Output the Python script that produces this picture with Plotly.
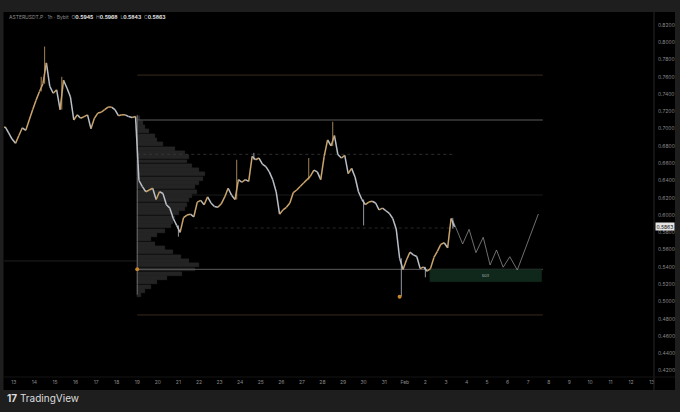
import pandas as pd
import plotly.graph_objects as go

# ---------------- data ----------------
candle_start = "2026-01-12 12:00"          # 4h candles
closes = [
    0.702, 0.695, 0.688, 0.683, 0.692, 0.701, 0.698, 0.710, 0.722, 0.733,
    0.743, 0.752, 0.776, 0.749, 0.741, 0.745, 0.722, 0.756, 0.747, 0.737,
    0.710, 0.716, 0.712, 0.714, 0.716, 0.700, 0.712, 0.718, 0.719, 0.722,
    0.725, 0.725, 0.722, 0.715, 0.716, 0.716, 0.714, 0.713, 0.714, 0.640,
    0.633, 0.627, 0.629, 0.631, 0.618, 0.627, 0.625, 0.612, 0.608, 0.596,
    0.588, 0.580, 0.597, 0.600, 0.601, 0.598, 0.615, 0.617, 0.612, 0.621,
    0.614, 0.610, 0.609, 0.613, 0.621, 0.631, 0.623, 0.618, 0.641, 0.638,
    0.641, 0.639, 0.668, 0.664, 0.666, 0.659, 0.656, 0.650, 0.641, 0.627,
    0.601, 0.606, 0.609, 0.614, 0.626, 0.629, 0.633, 0.637, 0.641, 0.645,
    0.652, 0.650, 0.641, 0.668, 0.687, 0.680, 0.692, 0.670, 0.666, 0.669,
    0.648, 0.654, 0.644, 0.627, 0.618, 0.612, 0.615, 0.616, 0.614, 0.606,
    0.608, 0.605, 0.602, 0.596, 0.584, 0.550, 0.537, 0.548, 0.557, 0.554,
    0.552, 0.538, 0.540, 0.535, 0.538, 0.551, 0.558, 0.566, 0.568, 0.562,
    0.596, 0.5863,
]
first_open = 0.700
wick_highs = {11: 0.760, 12: 0.795, 13: 0.766, 17: 0.760, 68: 0.664, 73: 0.672,
              89: 0.666, 96: 0.708, 131: 0.5968}
wick_lows = {51: 0.575, 105: 0.588, 116: 0.506, 123: 0.528, 131: 0.5843}

# volume profile (anchored Jan 19)
profile_anchor = "2026-01-19 00:00"
profile_prices = [0.712, 0.707, 0.702, 0.697, 0.692, 0.687, 0.682, 0.677, 0.672, 0.667,
                  0.662, 0.657, 0.652, 0.647, 0.642, 0.637, 0.632, 0.627, 0.622, 0.617,
                  0.612, 0.607, 0.602, 0.597, 0.592, 0.587, 0.582, 0.577, 0.572, 0.567,
                  0.562, 0.557, 0.552, 0.547, 0.542, 0.537, 0.532, 0.527, 0.522, 0.517,
                  0.512, 0.507]
profile_volumes = [3, 6, 8, 12, 18, 20, 26, 38, 48, 52,
                   50, 55, 62, 68, 66, 62, 58, 60, 55, 52,
                   50, 48, 42, 38, 36, 34, 28, 20, 14, 18,
                   28, 36, 44, 52, 62, 58, 45, 30, 20, 14,
                   8, 4]
profile_top, profile_bottom = 0.716, 0.508

# horizontal levels: (price, start, end)
level_prices = [0.762, 0.710, 0.6703, 0.6232, 0.585, 0.5372, 0.5469, 0.4844]
level_starts = ["2026-01-19 00:00", "2026-01-19 00:00", "2026-01-19 00:00", "2026-01-19 00:00",
                "2026-01-21 19:00", "2026-01-19 00:00", "2026-01-12 12:36", "2026-01-19 00:00"]
level_ends = ["2026-02-07 17:00", "2026-02-07 17:00", "2026-02-03 10:00", "2026-02-07 17:00",
              "2026-02-03 10:00", "2026-02-07 17:00", "2026-01-19 00:00", "2026-02-07 17:00"]

# projected zigzag path
zig_times = ["2026-02-03 08:00", "2026-02-03 19:30", "2026-02-04 03:00", "2026-02-04 11:00",
             "2026-02-04 19:30", "2026-02-05 03:30", "2026-02-05 11:00", "2026-02-05 18:45",
             "2026-02-06 02:30", "2026-02-06 11:15", "2026-02-07 11:45"]
zig_prices = [0.594, 0.5665, 0.5835, 0.5565, 0.5743, 0.5422, 0.5596, 0.5396,
              0.5518, 0.5364, 0.6012]

# demand box
box_times = ["2026-02-02 05:15", "2026-02-07 15:36"]
box_prices = [0.5229, 0.5372]
box_label = "Box"

# marker dots
dot_times = ["2026-01-31 18:00", "2026-01-19 00:00"]
dot_prices = [0.5056, 0.5372]

# axes
x_range = ["2026-01-12 12:36", "2026-02-13 02:40"]
y_range = [0.4126, 0.835]
x_tick_dates = pd.date_range("2026-01-13", "2026-02-13", freq="D")
x_tick_text = [str(d.day) if not (d.month == 2 and d.day == 1) else "Feb" for d in x_tick_dates]
y_tick_vals = [round(0.42 + 0.02 * k, 2) for k in range(21)]
last_price = 0.5863

# ---------------- build ----------------
times = pd.date_range(candle_start, periods=len(closes), freq="4h")
opens = [first_open] + closes[:-1]
highs = [max(o, c) for o, c in zip(opens, closes)]
lows = [min(o, c) for o, c in zip(opens, closes)]
for i, v in wick_highs.items():
    highs[i] = max(highs[i], v)
for i, v in wick_lows.items():
    lows[i] = min(lows[i], v)

UP = "#caa46c"
DOWN = "#b9bec7"
FONT = "Inter"

fig = go.Figure()

# volume profile as horizontal bars based at anchor date
max_width_ms = 3.3 * 24 * 3600 * 1000
vmax = max(profile_volumes)
fig.add_trace(go.Bar(
    y=profile_prices, x=[v / vmax * max_width_ms for v in profile_volumes],
    base=[profile_anchor] * len(profile_prices), orientation="h",
    width=0.0046, marker=dict(color="#242424", line=dict(color="#2e2e2e", width=0.3)),
    hoverinfo="skip", showlegend=False))

level_styles = [
    dict(color="#3a2a1c", width=1, dash="solid"),
    dict(color="#5c5c5c", width=1, dash="solid"),
    dict(color="#3a3a3a", width=0.8, dash="dot"),
    dict(color="#222222", width=0.8, dash="solid"),
    dict(color="#333333", width=0.8, dash="dot"),
    dict(color="#5c5c5c", width=1, dash="solid"),
    dict(color="#2a2a2a", width=0.8, dash="solid"),
    dict(color="#3a2a1c", width=1, dash="solid"),
]
for p, s, e, st in zip(level_prices, level_starts, level_ends, level_styles):
    fig.add_trace(go.Scatter(x=[s, e], y=[p, p], mode="lines", line=st,
                             hoverinfo="skip", showlegend=False))

# profile vertical anchor line
fig.add_trace(go.Scatter(x=[profile_anchor, profile_anchor], y=[profile_top, profile_bottom],
                         mode="lines", line=dict(color="#6a6a6a", width=1),
                         hoverinfo="skip", showlegend=False))

# demand box
fig.add_trace(go.Scatter(
    x=[box_times[0], box_times[1], box_times[1], box_times[0], box_times[0]],
    y=[box_prices[0], box_prices[0], box_prices[1], box_prices[1], box_prices[0]],
    mode="lines", fill="toself", fillcolor="#10281b", line=dict(color="#10281b", width=0.5),
    hoverinfo="skip", showlegend=False))

# zigzag projection
fig.add_trace(go.Scatter(x=zig_times, y=zig_prices, mode="lines",
                         line=dict(color="#8a8a8a", width=0.8),
                         hoverinfo="skip", showlegend=False))

# price path: thin open->close strokes coloured by direction, plus wicks
half = pd.Timedelta(hours=2)
seg = {True: ([], []), False: ([], [])}
wick = {True: ([], []), False: ([], [])}
for t, o, h, l, c in zip(times, opens, highs, lows, closes):
    up = c >= o
    xs, ys = seg[up]
    xs += [t - half, t + half, None]
    ys += [o, c, None]
    wx, wy = wick[up]
    if h > max(o, c) + 1e-9 or l < min(o, c) - 1e-9:
        wx += [t, t, None]
        wy += [l, h, None]
for up, col in ((False, DOWN), (True, UP)):
    fig.add_trace(go.Scatter(x=wick[up][0], y=wick[up][1], mode="lines",
                             line=dict(color=col, width=0.8),
                             hoverinfo="skip", showlegend=False))
    fig.add_trace(go.Scatter(x=seg[up][0], y=seg[up][1], mode="lines",
                             line=dict(color=col, width=1.5),
                             hoverinfo="skip", showlegend=False))

# dots
fig.add_trace(go.Scatter(x=dot_times, y=dot_prices, mode="markers",
                         marker=dict(color="#c8862c", size=4),
                         hoverinfo="skip", showlegend=False))

# box label
box_mid = pd.Timestamp(box_times[0]) + (pd.Timestamp(box_times[1]) - pd.Timestamp(box_times[0])) / 2
fig.add_annotation(x=box_mid, y=(box_prices[0] + box_prices[1]) / 2, text=box_label,
                   showarrow=False, font=dict(family=FONT, size=4, color="#9aa59e"))

W, H = 680, 412
L, R, T, B = 4, 26, 12, 35
pw, ph = W - L - R, H - T - B


def px_x(X):
    return (X - L) / pw


def px_y(Y):
    return (H - B - Y) / ph


shapes = [
    dict(type="rect", xref="paper", yref="paper", x0=px_x(3.5), x1=px_x(675),
         y0=px_y(390), y1=px_y(12), fillcolor="#000000", line=dict(width=0), layer="below"),
    dict(type="line", xref="paper", yref="paper", x0=px_x(654), x1=px_x(654),
         y0=px_y(390), y1=px_y(12), line=dict(color="#262626", width=1)),
    dict(type="line", xref="paper", yref="paper", x0=px_x(3.5), x1=px_x(675),
         y0=px_y(377), y1=px_y(377), line=dict(color="#141414", width=1)),
]

annotations = [
    dict(xref="paper", yref="paper", x=px_x(4), y=px_y(6), xanchor="left", yanchor="middle",
         text="<b>BitcoinKimchi created with TradingView.com, Feb 03, 2026 09:26 UTC</b>",
         showarrow=False, font=dict(family=FONT, size=5.5, color="#e8e8e8")),
    dict(xref="paper", yref="paper", x=px_x(7), y=px_y(17.5), xanchor="left", yanchor="middle",
         text=("ASTERUSDT.P · 1h · Bybit  O<span style='color:#e6e6e6'><b>0.5945</b></span>"
               "  H<span style='color:#e6e6e6'><b>0.5968</b></span>"
               "  L<span style='color:#e6e6e6'><b>0.5843</b></span>"
               "  C<span style='color:#e6e6e6'><b>0.5863</b></span>"),
         showarrow=False, font=dict(family=FONT, size=5, color="#8c8c8c")),
    dict(xref="paper", yref="y", x=px_x(655), y=last_price, xanchor="left", yanchor="middle",
         text="0.5863", showarrow=False, bgcolor="#e4e4e4", borderpad=0.5,
         font=dict(family=FONT, size=5, color="#111111")),
    dict(xref="paper", yref="paper", x=px_x(5), y=px_y(398), xanchor="left", yanchor="middle",
         text="<b>17</b> TradingView", showarrow=False,
         font=dict(family=FONT, size=10, color="#dcdcdc")),
]

fig.update_layout(
    width=W, height=H, margin=dict(l=L, r=R, t=T, b=B, pad=0),
    paper_bgcolor="#1e1e1e", plot_bgcolor="#000000",
    showlegend=False, shapes=shapes, annotations=annotations,
    bargap=0, barmode="overlay", hovermode=False,
    xaxis=dict(type="date", range=x_range, rangeslider=dict(visible=False),
               tickvals=list(x_tick_dates), ticktext=x_tick_text,
               tickfont=dict(family=FONT, size=5, color="#8a8a8a"),
               showgrid=False, zeroline=False, showline=False, ticks="", ticklabelstandoff=1),
    yaxis=dict(range=y_range, side="right", tickvals=y_tick_vals, tickformat=".4f",
               tickfont=dict(family=FONT, size=5, color="#8a8a8a"),
               showgrid=False, zeroline=False, showline=False, ticks="", ticklabelstandoff=3),
)

fig.write_html("out.html", config={"displayModeBar": False},
               post_script="document.body.style.margin='0';document.body.style.overflow='hidden';")
